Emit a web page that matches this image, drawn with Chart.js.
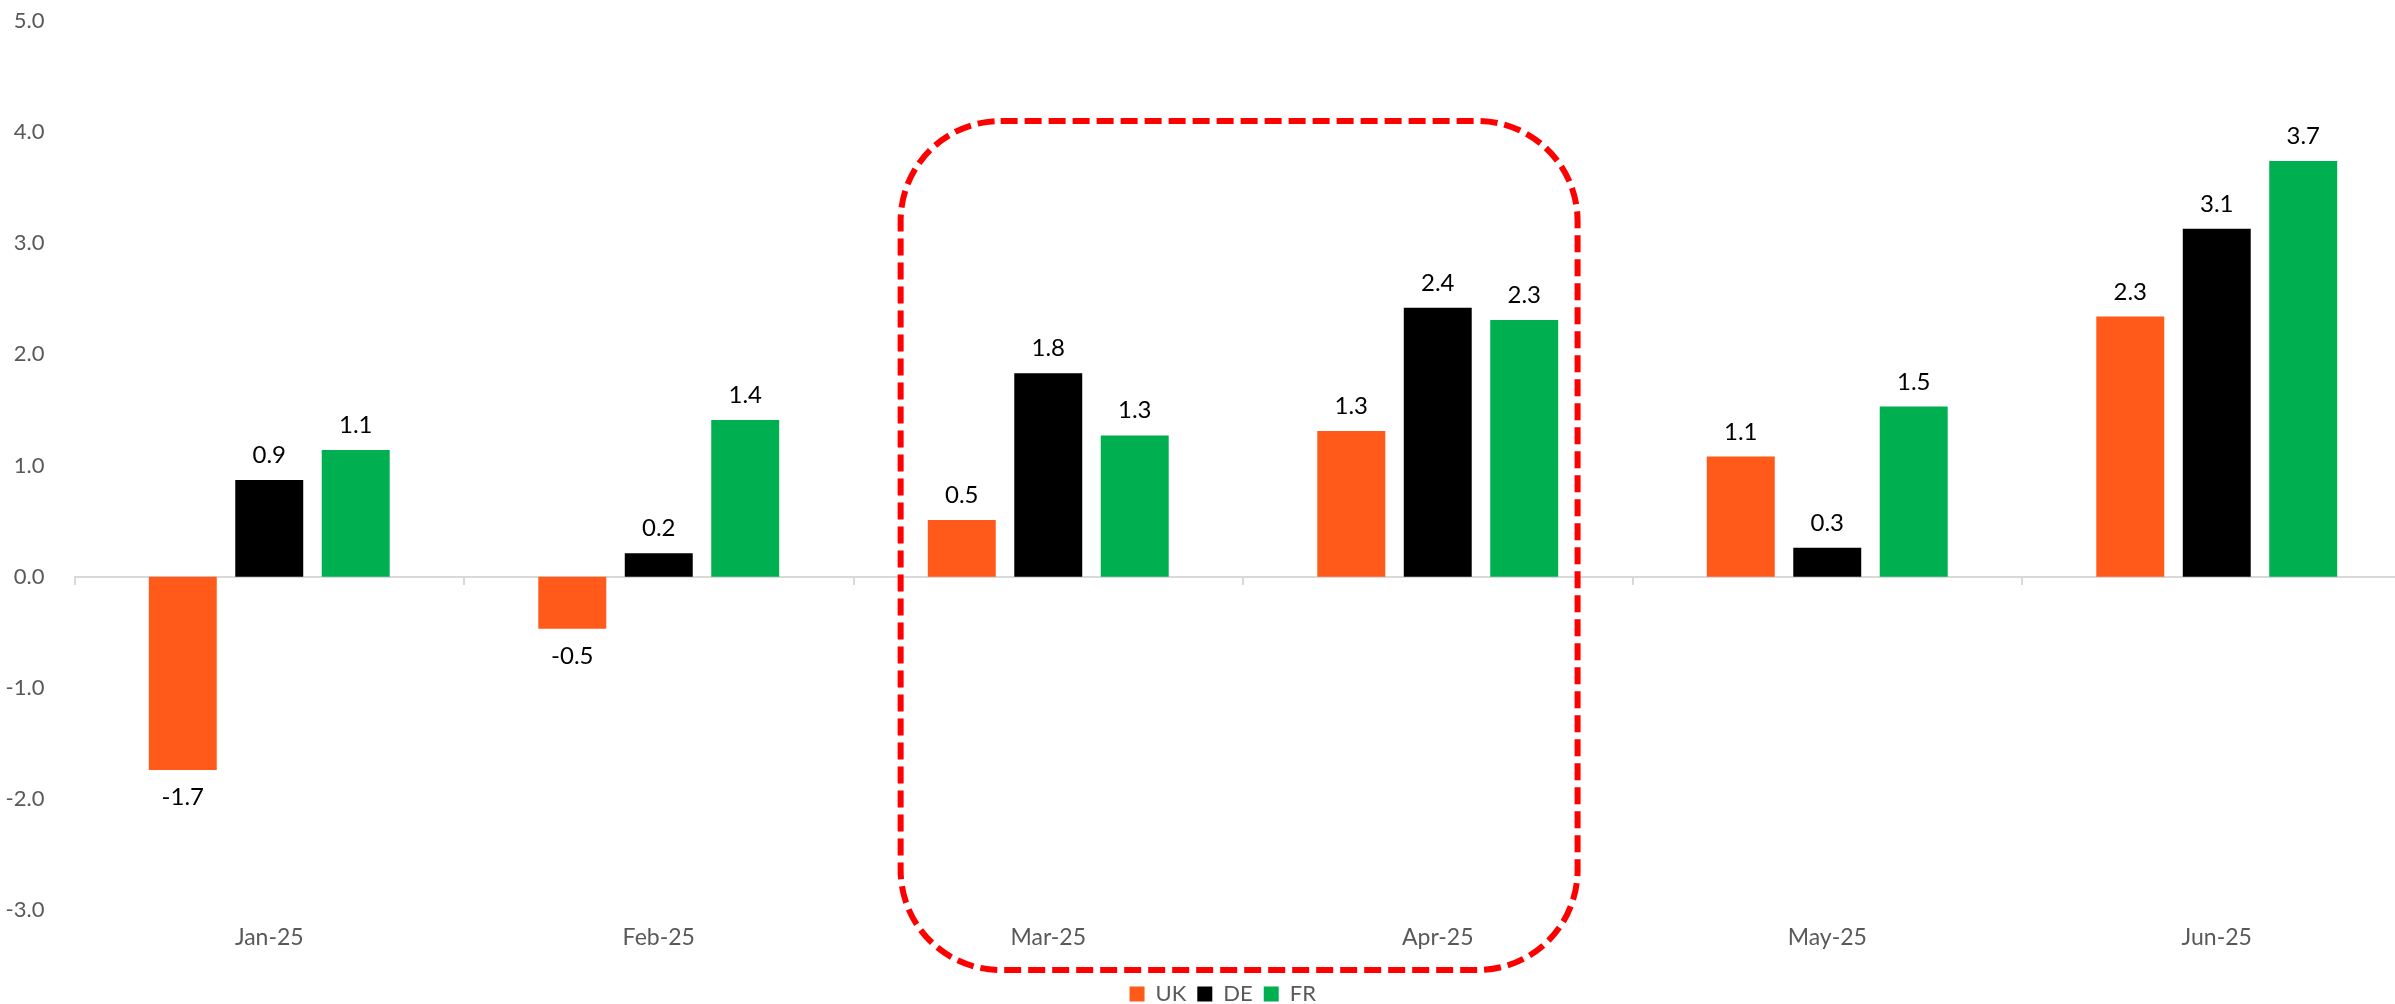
<!DOCTYPE html>
<html><head><meta charset="utf-8">
<script src="https://cdn.jsdelivr.net/npm/chart.js@4.4.1/dist/chart.umd.min.js"></script>
<style>
html,body{margin:0;padding:0;overflow:hidden;background:#fff;width:2395px;height:1004px}
canvas{display:block}
</style></head>
<body><canvas id="c" width="2430" height="1004"></canvas>
<script>
const categories = ['Jan-25', 'Feb-25', 'Mar-25', 'Apr-25', 'May-25', 'Jun-25'];
const seriesNames = ['UK', 'DE', 'FR'];
const ukValues = [-1.74, -0.47, 0.51, 1.31, 1.08, 2.34];
const deValues = [0.87, 0.21, 1.83, 2.42, 0.26, 3.13];
const frValues = [1.14, 1.41, 1.27, 2.31, 1.53, 3.74];
const yTickValues = [-3, -2, -1, 0, 1, 2, 3, 4, 5];
const highlightCategories = ['Mar-25', 'Apr-25'];

const seriesColors = ['#FF5A19', '#000000', '#00B050'];
const FONT = 'Lato, "Open Sans", sans-serif';

const valueLabels = {
  id: 'valueLabels',
  afterDatasetsDraw(chart) {
    const ctx = chart.ctx;
    ctx.save();
    ctx.font = '24px ' + FONT;
    ctx.fillStyle = '#000';
    ctx.textAlign = 'center';
    ctx.textBaseline = 'alphabetic';
    chart.data.datasets.forEach((ds, i) => {
      const meta = chart.getDatasetMeta(i);
      meta.data.forEach((bar, j) => {
        const v = ds.data[j];
        const y = v >= 0 ? bar.y - 17 : bar.y + 35;
        ctx.fillText(v.toFixed(1), bar.x, y);
      });
    });
    ctx.restore();
  }
};

const highlightBox = {
  id: 'highlightBox',
  afterDraw(chart) {
    const xs = chart.scales.x, ys = chart.scales.y;
    const i0 = categories.indexOf(highlightCategories[0]);
    const i1 = categories.indexOf(highlightCategories[1]);
    const cw = xs.getPixelForValue(1) - xs.getPixelForValue(0);
    const left = xs.getPixelForValue(i0) - 0.379 * cw;
    const right = xs.getPixelForValue(i1) + 0.359 * cw;
    const top = ys.getPixelForValue(4.1);
    const bottom = ys.getPixelForValue(-3.54);
    const ctx = chart.ctx;
    ctx.save();
    ctx.strokeStyle = '#FF0000';
    ctx.lineWidth = 6;
    ctx.setLineDash([17, 7]);
    ctx.beginPath();
    ctx.roundRect(left, top, right - left, bottom - top, 100);
    ctx.stroke();
    ctx.restore();
  }
};

const legendShift = {
  id: 'legendShift',
  afterLayout(chart) {
    const lg = chart.legend;
    if (!lg) return;
    lg.left += 17; lg.right += 17;
    lg.top += 11; lg.bottom += 11;
  }
};

function build() {
  new Chart(document.getElementById('c'), {
    type: 'bar',
    data: {
      labels: categories,
      datasets: [
        { label: seriesNames[0], data: ukValues, backgroundColor: seriesColors[0] },
        { label: seriesNames[1], data: deValues, backgroundColor: seriesColors[1] },
        { label: seriesNames[2], data: frValues, backgroundColor: seriesColors[2] }
      ]
    },
    options: {
      responsive: false,
      animation: false,
      categoryPercentage: 0.666,
      barPercentage: 0.786,
      layout: { padding: { left: 0, right: 18.5, top: 21, bottom: 0 } },
      plugins: {
        tooltip: { enabled: false },
        legend: {
          position: 'bottom',
          labels: {
            boxWidth: 15, boxHeight: 15, padding: 11,
            color: '#595959',
            font: { family: FONT, size: 22 }
          }
        }
      },
      scales: {
        x: {
          type: 'category',
          position: 'bottom',
          grid: { display: false },
          border: { display: false },
          ticks: { color: '#595959', font: { family: FONT, size: 23 }, padding: 6, maxRotation: 0 },
          afterFit(scale) { scale.height = 51; }
        },
        xZero: {
          type: 'category',
          axis: 'x',
          labels: categories,
          position: { y: 0 },
          offset: true,
          ticks: { display: false },
          grid: { display: true, offset: true, drawOnChartArea: false, drawTicks: true, tickLength: 7, color: '#D9D9D9', lineWidth: 2 },
          border: { display: true, color: '#D9D9D9', width: 2 }
        },
        y: {
          min: yTickValues[0],
          max: yTickValues[yTickValues.length - 1],
          grid: { display: false },
          border: { display: false },
          afterBuildTicks(scale) { scale.ticks = yTickValues.map(v => ({ value: v })); },
          ticks: {
            stepSize: 1,
            padding: 22,
            color: '#595959',
            font: { family: FONT, size: 22 },
            callback: v => Number(v).toFixed(1)
          },
          afterFit(scale) {
            scale.width = 74.5;
            scale.paddingTop = 0;
            scale.paddingBottom = 0;
          }
        }
      }
    },
    plugins: [valueLabels, highlightBox, legendShift]
  });
}
if (document.fonts && document.fonts.load) {
  Promise.all([document.fonts.load('22px Lato'), document.fonts.load('24px Lato')]).then(build, build);
} else { build(); }
</script>
</body></html>
